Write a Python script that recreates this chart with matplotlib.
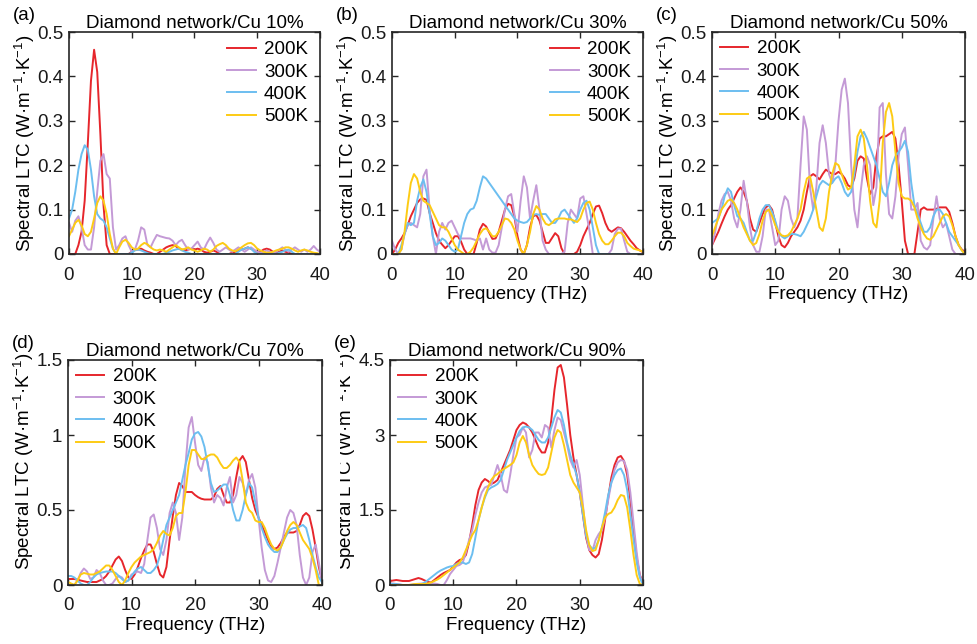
import numpy as np
import matplotlib
matplotlib.use('Agg')
import matplotlib.pyplot as plt
from matplotlib.transforms import Bbox

plt.rcParams['font.family'] = ['Liberation Sans', 'DejaVu Sans']
plt.rcParams['mathtext.fontset'] = 'custom'
plt.rcParams['mathtext.rm'] = 'Liberation Sans'
plt.rcParams['mathtext.it'] = 'Liberation Sans:italic'
plt.rcParams['mathtext.default'] = 'regular'

# sampling grid of the spectra (THz), 0.5 THz steps
freq = np.linspace(0, 40, 81)
temps = ['200K', '300K', '400K', '500K']
colors = ['#e6262c', '#c49ad6', '#6cbef0', '#fdcb14']

# ---- Diamond network/Cu 10%
cu10_200 = [0, 0, 0, 0.02, 0.05, 0.12, 0.25, 0.39, 0.46, 0.41,
            0.27, 0.11, 0.02, 0, 0, 0, 0, 0, 0, 0,
            0.005, 0.01, 0.01, 0.012, 0.008, 0.005, 0.003, 0, 0, 0.005,
            0.01, 0.015, 0.018, 0.02, 0.018, 0.012, 0.01, 0.008, 0.01, 0.012,
            0.01, 0.012, 0.01, 0.005, 0.003, 0.005, 0.008, 0.005, 0, 0,
            0, 0, 0.003, 0.005, 0.008, 0.01, 0.012, 0.015, 0.012, 0.008,
            0.005, 0.005, 0.01, 0.012, 0.01, 0.005, 0.003, 0.005, 0.008, 0.005,
            0.003, 0, 0, 0, 0, 0, 0, 0, 0, 0,
            0]
cu10_300 = [0.07, 0.05, 0.075, 0.085, 0.06, 0.02, 0.01, 0.01, 0.06, 0.14,
            0.21, 0.225, 0.18, 0.17, 0.06, 0.01, 0.02, 0.035, 0.04, 0.02,
            0.005, 0.01, 0.03, 0.06, 0.055, 0.02, 0.015, 0.03, 0.043, 0.04,
            0.038, 0.036, 0.035, 0.03, 0.02, 0.028, 0.032, 0.02, 0.01, 0.012,
            0.02, 0.028, 0.015, 0.01, 0.025, 0.037, 0.025, 0.01, 0.005, 0.01,
            0.015, 0.01, 0.005, 0.01, 0.015, 0.01, 0.005, 0.01, 0.015, 0.01,
            0.005, 0.003, 0.005, 0.008, 0.005, 0.003, 0.005, 0.01, 0.015, 0.01,
            0.005, 0.01, 0.015, 0.01, 0.005, 0.01, 0.005, 0.01, 0.018, 0.01,
            0.005]
cu10_400 = [0.08, 0.1, 0.14, 0.19, 0.225, 0.245, 0.235, 0.19, 0.13, 0.09,
            0.08, 0.075, 0.06, 0.035, 0.012, 0, 0, 0, 0, 0,
            0.003, 0.008, 0.01, 0.008, 0.005, 0.002, 0, 0, 0, 0,
            0, 0.003, 0.005, 0.008, 0.01, 0.012, 0.008, 0.005, 0.003, 0,
            0, 0, 0, 0, 0, 0, 0, 0, 0, 0,
            0, 0, 0, 0, 0.005, 0.01, 0.012, 0.015, 0.012, 0.005,
            0, 0, 0, 0, 0, 0, 0, 0.003, 0.005, 0.008,
            0.01, 0.005, 0, 0, 0, 0, 0, 0, 0, 0,
            0]
cu10_500 = [0.04, 0.055, 0.07, 0.077, 0.065, 0.045, 0.04, 0.05, 0.08, 0.115,
            0.13, 0.12, 0.09, 0.045, 0.012, 0, 0.015, 0.028, 0.032, 0.025,
            0.015, 0.01, 0.012, 0.02, 0.025, 0.022, 0.015, 0.01, 0.008, 0.01,
            0.008, 0.005, 0.01, 0.015, 0.02, 0.015, 0.01, 0.012, 0.015, 0.01,
            0.008, 0.005, 0.008, 0.012, 0.01, 0.005, 0.01, 0.018, 0.022, 0.025,
            0.02, 0.012, 0.008, 0.006, 0.01, 0.015, 0.02, 0.024, 0.025, 0.02,
            0.012, 0.008, 0.005, 0.003, 0.003, 0.005, 0.008, 0.01, 0.012, 0.015,
            0.015, 0.012, 0.008, 0.005, 0.008, 0.01, 0.008, 0.005, 0.003, 0.002,
            0]

# ---- Diamond network/Cu 30%
cu30_200 = [0, 0.01, 0.025, 0.035, 0.047, 0.065, 0.085, 0.1, 0.115, 0.123,
            0.125, 0.122, 0.092, 0.07, 0.047, 0.03, 0.021, 0.013, 0.02, 0.03,
            0.04, 0.04, 0.028, 0.01, 0, 0, 0, 0.025, 0.055, 0.068,
            0.062, 0.048, 0.034, 0.035, 0.05, 0.075, 0.1, 0.113, 0.11, 0.085,
            0.04, 0.01, 0, 0.02, 0.06, 0.085, 0.088, 0.075, 0.05, 0.025,
            0.025, 0.036, 0.047, 0.04, 0.013, 0, 0, 0, 0, 0.005,
            0.02, 0.04, 0.055, 0.07, 0.09, 0.107, 0.109, 0.092, 0.07, 0.055,
            0.05, 0.055, 0.06, 0.058, 0.05, 0.04, 0.03, 0.022, 0.013, 0.008,
            0.004]
cu30_300 = [0.03, 0.01, 0, 0.01, 0.045, 0.065, 0.07, 0.065, 0.06, 0.09,
            0.175, 0.19, 0.1, 0.04, 0.0, 0.05, 0.07, 0.055, 0.07, 0.075,
            0.06, 0.045, 0.035, 0.035, 0.035, 0.035, 0.033, 0.03, 0.035, 0.01,
            0.035, 0.01, 0.003, 0.003, 0.02, 0.06, 0.1, 0.13, 0.135, 0.09,
            0.05, 0.12, 0.175, 0.15, 0.08, 0.12, 0.155, 0.1, 0.03, 0.01,
            0, 0, 0, 0, 0, 0.005, 0.07, 0.1, 0.09, 0.08,
            0.125, 0.13, 0.09, 0.05, 0.0, 0, 0, 0, 0, 0,
            0.01, 0.045, 0.057, 0.057, 0.03, 0.005, 0, 0, 0, 0,
            0]
cu30_400 = [0, 0, 0, 0.02, 0.045, 0.07, 0.065, 0.07, 0.12, 0.15,
            0.168, 0.14, 0.09, 0.04, 0.02, 0.025, 0.035, 0.03, 0.02, 0.01,
            0.005, 0.01, 0.04, 0.07, 0.09, 0.1, 0.103, 0.12, 0.15, 0.175,
            0.17, 0.16, 0.15, 0.14, 0.13, 0.12, 0.11, 0.1, 0.09, 0.08,
            0.075, 0.072, 0.07, 0.072, 0.08, 0.088, 0.09, 0.088, 0.09, 0.09,
            0.08, 0.07, 0.07, 0.08, 0.095, 0.1, 0.09, 0.08, 0.07, 0.08,
            0.1, 0.115, 0.12, 0.1, 0.06, 0.02, 0, 0, 0, 0,
            0, 0, 0, 0, 0, 0, 0, 0, 0, 0,
            0]
cu30_500 = [0, 0, 0, 0.01, 0.05, 0.11, 0.16, 0.18, 0.17, 0.14,
            0.12, 0.115, 0.11, 0.095, 0.08, 0.065, 0.06, 0.06, 0.05, 0.035,
            0.02, 0.01, 0.005, 0, 0, 0.005, 0.015, 0.03, 0.045, 0.055,
            0.058, 0.05, 0.04, 0.04, 0.05, 0.065, 0.08, 0.078, 0.07, 0.055,
            0.03, 0.01, 0, 0.02, 0.05, 0.09, 0.108, 0.1, 0.08, 0.068,
            0.065, 0.07, 0.078, 0.08, 0.08, 0.08, 0.078, 0.078, 0.075, 0.072,
            0.08, 0.1, 0.115, 0.118, 0.1, 0.07, 0.045, 0.03, 0.022, 0.022,
            0.03, 0.04, 0.048, 0.048, 0.04, 0.025, 0.018, 0.012, 0.01, 0.008,
            0.005]

# ---- Diamond network/Cu 50%
cu50_200 = [0.02, 0.035, 0.05, 0.068, 0.085, 0.1, 0.11, 0.125, 0.14, 0.15,
            0.14, 0.12, 0.08, 0.055, 0.05, 0.07, 0.09, 0.105, 0.11, 0.1,
            0.07, 0.04, 0.02, 0.015, 0.025, 0.04, 0.05, 0.06, 0.075, 0.1,
            0.14, 0.175, 0.18, 0.175, 0.168, 0.18, 0.19, 0.185, 0.18, 0.18,
            0.185, 0.18, 0.17, 0.155, 0.15, 0.17, 0.21, 0.22, 0.215, 0.17,
            0.135, 0.15, 0.22, 0.26, 0.265, 0.265, 0.27, 0.275, 0.26, 0.2,
            0.12, 0.03, 0, 0, 0, 0.05, 0.1, 0.105, 0.1, 0.1,
            0.1, 0.102, 0.105, 0.105, 0.105, 0.095, 0.07, 0.04, 0.02, 0.01,
            0.005]
cu50_300 = [0.02, 0.05, 0.09, 0.12, 0.135, 0.14, 0.12, 0.08, 0.06, 0.1,
            0.165, 0.12, 0.06, 0.02, 0.005, 0.005, 0.04, 0.1, 0.1, 0.06,
            0.02, 0.03, 0.1, 0.13, 0.12, 0.08, 0.06, 0.08, 0.2, 0.31,
            0.28, 0.15, 0.1, 0.15, 0.25, 0.29, 0.25, 0.18, 0.16, 0.2,
            0.3, 0.37, 0.395, 0.34, 0.2, 0.1, 0.06, 0.14, 0.2, 0.22,
            0.2, 0.11, 0.15, 0.33, 0.34, 0.18, 0.09, 0.08, 0.13, 0.22,
            0.27, 0.285, 0.2, 0.1, 0.1, 0.115, 0.03, 0.015, 0.01, 0.02,
            0.08, 0.13, 0.08, 0.06, 0.07, 0.04, 0.01, 0, 0, 0,
            0]
cu50_400 = [0.07, 0.075, 0.08, 0.1, 0.13, 0.148, 0.14, 0.11, 0.085, 0.08,
            0.07, 0.05, 0.03, 0.03, 0.05, 0.08, 0.1, 0.11, 0.11, 0.095,
            0.075, 0.05, 0.04, 0.035, 0.04, 0.045, 0.045, 0.043, 0.04, 0.05,
            0.065, 0.08, 0.1, 0.13, 0.155, 0.165, 0.16, 0.155, 0.16, 0.17,
            0.175, 0.16, 0.14, 0.13, 0.14, 0.18, 0.23, 0.265, 0.275, 0.26,
            0.24, 0.22, 0.2, 0.17, 0.14, 0.13, 0.16, 0.2, 0.22, 0.23,
            0.24, 0.255, 0.23, 0.16, 0.11, 0.09, 0.07, 0.05, 0.05, 0.06,
            0.085, 0.1, 0.1, 0.09, 0.07, 0.05, 0.04, 0.03, 0.02, 0.008,
            0]
cu50_500 = [0.04, 0.06, 0.08, 0.1, 0.11, 0.12, 0.123, 0.115, 0.1, 0.08,
            0.06, 0.045, 0.03, 0.02, 0.025, 0.045, 0.075, 0.095, 0.1, 0.085,
            0.065, 0.05, 0.042, 0.04, 0.042, 0.05, 0.065, 0.08, 0.1, 0.14,
            0.17, 0.175, 0.14, 0.1, 0.06, 0.052, 0.08, 0.14, 0.18, 0.205,
            0.2, 0.18, 0.16, 0.145, 0.15, 0.2, 0.265, 0.28, 0.26, 0.2,
            0.12, 0.07, 0.06, 0.12, 0.25, 0.32, 0.34, 0.31, 0.23, 0.16,
            0.13, 0.125, 0.125, 0.12, 0.105, 0.08, 0.06, 0.045, 0.035, 0.032,
            0.04, 0.055, 0.07, 0.085, 0.09, 0.085, 0.065, 0.04, 0.02, 0.008,
            0]

# ---- Diamond network/Cu 70%
cu70_200 = [0.04, 0.04, 0.04, 0.035, 0.03, 0.025, 0.02, 0.02, 0.02, 0.02,
            0.03, 0.04, 0.06, 0.09, 0.13, 0.17, 0.19, 0.16, 0.1, 0.05,
            0.04, 0.07, 0.12, 0.18, 0.23, 0.27, 0.27, 0.22, 0.14, 0.07,
            0.05, 0.12, 0.3, 0.46, 0.6, 0.68, 0.66, 0.62, 0.62, 0.62,
            0.6, 0.585, 0.575, 0.57, 0.57, 0.57, 0.59, 0.64, 0.66, 0.6,
            0.55, 0.55, 0.6, 0.72, 0.83, 0.86, 0.82, 0.7, 0.58, 0.5,
            0.45, 0.4, 0.35, 0.3, 0.26, 0.24, 0.25, 0.28, 0.32, 0.35,
            0.35, 0.35, 0.36, 0.4, 0.46, 0.48, 0.46, 0.37, 0.25, 0.12,
            0.03]
cu70_300 = [0.02, 0.005, 0, 0.03, 0.08, 0.11, 0.09, 0.04, 0.05, 0.1,
            0.08, 0.03, 0, 0, 0.01, 0.04, 0.06, 0.05, 0.02, 0.03,
            0.07, 0.08, 0.09, 0.08, 0.14, 0.3, 0.45, 0.47, 0.38, 0.24,
            0.2, 0.3, 0.48, 0.55, 0.48, 0.3, 0.45, 0.8, 1.05, 1.12,
            0.95, 0.8, 0.76, 0.85, 0.82, 0.65, 0.55, 0.6, 0.58, 0.53,
            0.65, 0.72, 0.55, 0.6, 0.72, 0.68, 0.6, 0.7, 0.74, 0.65,
            0.45, 0.25, 0.1, 0.03, 0.02, 0.06, 0.15, 0.25, 0.35, 0.45,
            0.5, 0.48, 0.4, 0.2, 0.05, 0, 0.05, 0.22, 0.27, 0.15,
            0.02]
cu70_400 = [0.06, 0.06, 0.05, 0.03, 0.01, 0, 0, 0.02, 0.05, 0.07,
            0.08, 0.085, 0.09, 0.09, 0.09, 0.08, 0.06, 0.04, 0.02, 0.03,
            0.06, 0.09, 0.11, 0.12, 0.1, 0.08, 0.08, 0.1, 0.13, 0.2,
            0.3, 0.4, 0.45, 0.5, 0.55, 0.6, 0.7, 0.8, 0.88, 0.97,
            1.01, 1.02, 0.99, 0.92, 0.8, 0.68, 0.62, 0.63, 0.65, 0.67,
            0.67, 0.6, 0.5, 0.43, 0.43, 0.5, 0.6, 0.68, 0.65, 0.55,
            0.45, 0.38, 0.32, 0.27, 0.24, 0.22, 0.22, 0.25, 0.3, 0.34,
            0.37, 0.38, 0.38, 0.39, 0.4, 0.38, 0.3, 0.2, 0.12, 0.05,
            0.02]
cu70_500 = [0.02, 0.01, 0, 0.03, 0.07, 0.08, 0.075, 0.07, 0.07, 0.08,
            0.09, 0.11, 0.13, 0.13, 0.1, 0.06, 0.02, 0, 0.03, 0.08,
            0.12, 0.15, 0.17, 0.19, 0.2, 0.21, 0.22, 0.24, 0.28, 0.33,
            0.36, 0.34, 0.33, 0.38, 0.46, 0.48, 0.48, 0.62, 0.8, 0.9,
            0.9, 0.87, 0.84, 0.84, 0.86, 0.87, 0.87, 0.85, 0.81, 0.78,
            0.78, 0.8, 0.83, 0.85, 0.82, 0.7, 0.55, 0.5, 0.48, 0.43,
            0.42, 0.42, 0.38, 0.32, 0.27, 0.24, 0.23, 0.25, 0.3, 0.36,
            0.4, 0.42, 0.4, 0.35, 0.3, 0.27, 0.24, 0.18, 0.1, 0.0,
            0]

# ---- Diamond network/Cu 90%
cu90_200 = [0.08, 0.09, 0.1, 0.09, 0.08, 0.08, 0.08, 0.1, 0.12, 0.14,
            0.12, 0.09, 0.06, 0.05, 0.1, 0.15, 0.2, 0.24, 0.27, 0.3,
            0.37, 0.45, 0.5, 0.52, 0.6, 0.85, 1.2, 1.6, 1.9, 2.05,
            2.12, 2.08, 2.02, 2.05, 2.1, 2.25, 2.4, 2.55, 2.7, 2.9,
            3.1, 3.2, 3.25, 3.22, 3.15, 3.05, 2.9, 2.75, 2.65, 2.65,
            2.85, 3.3, 3.9, 4.35, 4.4, 4.15, 3.6, 3.0, 2.55, 2.2,
            1.85, 1.4, 0.95, 0.7, 0.6, 0.55, 0.62, 0.9, 1.3, 1.75,
            2.15, 2.4, 2.55, 2.58, 2.48, 2.2, 1.7, 1.1, 0.55, 0.2,
            0.05]
cu90_300 = [0.03, 0.03, 0.02, 0.01, 0, 0, 0, 0.01, 0.02, 0.025,
            0.03, 0.025, 0.02, 0.025, 0.03, 0.02, 0, 0, 0.1, 0.22,
            0.3, 0.38, 0.4, 0.45, 0.65, 0.9, 1.1, 1.4, 1.65, 1.85,
            1.95, 1.98, 2.0, 2.2, 2.4, 2.2, 1.9, 1.85, 2.2, 2.6,
            2.95, 3.0, 3.15, 3.05, 2.55, 2.7, 3.05, 3.05, 2.95, 3.2,
            3.15, 2.75, 3.1, 3.35, 3.3, 3.05, 2.8, 2.5, 2.35, 2.5,
            2.2, 1.6, 1.0, 0.7, 0.68, 0.9, 1.02, 1.1, 1.35, 1.7,
            2.05, 2.3, 2.45, 2.5, 2.48, 2.3, 1.85, 1.25, 0.65, 0.2,
            0]
cu90_400 = [0.02, 0.02, 0.02, 0.01, 0, 0, 0, 0, 0, 0,
            0.02, 0.05, 0.1, 0.15, 0.2, 0.25, 0.29, 0.32, 0.35, 0.37,
            0.38, 0.42, 0.45, 0.45, 0.42, 0.45, 0.62, 0.95, 1.3, 1.55,
            1.75, 1.9, 1.95, 1.98, 2.02, 2.1, 2.3, 2.5, 2.65, 2.8,
            2.95, 3.08, 3.15, 3.17, 3.15, 3.1, 3.0, 2.9, 2.85, 2.85,
            2.95, 3.15, 3.35, 3.5, 3.45, 3.2, 2.85, 2.6, 2.4, 2.2,
            1.85, 1.4, 1.0, 0.8, 0.72, 0.75, 0.9, 1.15, 1.45, 1.8,
            2.05, 2.2, 2.3, 2.33, 2.2, 1.9, 1.4, 0.9, 0.45, 0.15,
            0]
cu90_500 = [0, 0, 0, 0, 0, 0, 0, 0.01, 0.02, 0.02,
            0.02, 0.02, 0.03, 0.05, 0.08, 0.11, 0.15, 0.2, 0.25, 0.3,
            0.35, 0.4, 0.45, 0.55, 0.7, 0.85, 1.0, 1.1, 1.3, 1.55,
            1.78, 1.95, 2.1, 2.18, 2.22, 2.28, 2.32, 2.36, 2.4, 2.45,
            2.6, 2.85, 2.98, 2.85, 2.6, 2.4, 2.3, 2.22, 2.2, 2.22,
            2.35, 2.65, 2.95, 3.1, 3.05, 2.8, 2.5, 2.2, 2.05, 1.95,
            1.85, 1.55, 1.1, 0.8, 0.68, 0.7, 0.9, 1.15, 1.35, 1.42,
            1.45, 1.55, 1.7, 1.8, 1.78, 1.55, 1.1, 0.6, 0.2, 0.02,
            0]

small_ticks = [0, 0.1, 0.2, 0.3, 0.4, 0.5]
small_labels = ['0', '0.1', '0.2', '0.3', '0.4', '0.5']

panels = [
    ('(a)', 'Diamond network/Cu 10%', [cu10_200, cu10_300, cu10_400, cu10_500],
     small_ticks, small_labels, 'right'),
    ('(b)', 'Diamond network/Cu 30%', [cu30_200, cu30_300, cu30_400, cu30_500],
     small_ticks, small_labels, 'right'),
    ('(c)', 'Diamond network/Cu 50%', [cu50_200, cu50_300, cu50_400, cu50_500],
     small_ticks, small_labels, 'left'),
    ('(d)', 'Diamond network/Cu 70%', [cu70_200, cu70_300, cu70_400, cu70_500],
     [0, 0.5, 1, 1.5], ['0', '0.5', '1', '1.5'], 'left'),
    ('(e)', 'Diamond network/Cu 90%', [cu90_200, cu90_300, cu90_400, cu90_500],
     [0, 1.5, 3, 4.5], ['0', '1.5', '3', '4.5'], 'left'),
]

# axes boxes in pixels (left, top, right, bottom)
W, H = 978, 644
boxes = [(69, 32, 320, 254), (392, 32, 643, 254), (712, 32, 965, 254),
         (68, 360, 322, 585), (390, 360, 643, 585)]

FS = 13.5
ylab = 'Spectral LTC (W·m$^{-1}$·K$^{-1}$)'
fig = plt.figure(figsize=(W / 100, H / 100), dpi=100)

for i, (tag, title, series, yt, ytl, side) in enumerate(panels):
    x0, y0, x1, y1 = boxes[i]
    w, h = x1 - x0, y1 - y0
    ax = fig.add_axes([x0 / W, 1 - y1 / H, w / W, h / H])
    for vals, c, t in zip(series, colors, temps):
        ax.plot(freq, vals, color=c, lw=1.4, label=t)
    ax.set_xlim(0, 40)
    ax.set_ylim(yt[0], yt[-1])
    ax.set_xticks([0, 10, 20, 30, 40])
    ax.set_yticks(yt)
    ax.set_yticklabels(ytl)
    ax.tick_params(direction='in', top=True, right=True, length=4, width=1.0,
                   labelsize=FS, color='#262626', labelcolor='#1a1a1a')
    ax.tick_params(axis='x', pad=9)
    ax.tick_params(axis='y', pad=4)
    for sp in ax.spines.values():
        sp.set_linewidth(1.2)
        sp.set_color('#262626')
    ax.set_title(title, fontsize=FS, pad=3)
    ax.set_xlabel('Frequency (THz)', fontsize=FS, labelpad=2)
    ax.set_ylabel(ylab, fontsize=FS)
    ax.yaxis.set_label_coords(-32 / w, 0.5 if i < 3 else 0.55)

    legend_kw = dict(fontsize=FS, frameon=False, labelspacing=0.28,
                     handlelength=1.5, handletextpad=0.45,
                     borderpad=0, borderaxespad=0)
    if side == 'right':
        ax.legend(loc='upper right', bbox_to_anchor=(1 - 12 / w, 1 - 9 / h), **legend_kw)
    else:
        ax.legend(loc='upper left', bbox_to_anchor=(8 / w, 1 - 8 / h), **legend_kw)

    fig.text((x0 - 56) / W, 1 - (y0 - 17) / H, tag, fontsize=FS,
             ha='left', va='center')
    if i == 4:
        # the left edge of this panel's label is cut off in the original
        lab = ax.yaxis.label
        lab.set_clip_box(Bbox.from_extents(340, 0, W, H))
        lab.set_clip_on(True)

fig.savefig('out.png', dpi=100)
